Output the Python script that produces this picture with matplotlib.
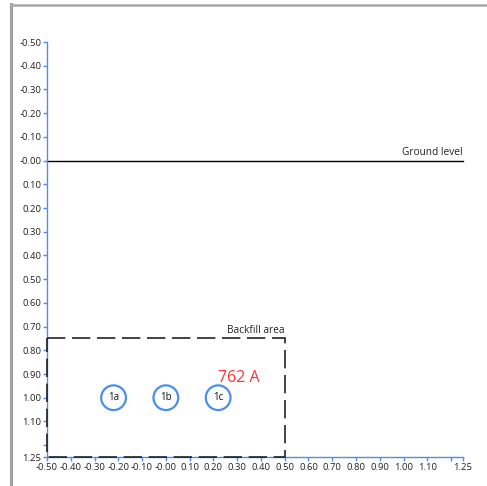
import numpy as np
import matplotlib
matplotlib.use("Agg")
from matplotlib import pyplot as plt
from matplotlib.patches import Circle, Rectangle
from matplotlib.lines import Line2D

# Cable layout data
cable_names = ["1a", "1b", "1c"]
cable_x = [-0.22, 0.0, 0.22]
cable_y = [1.0, 1.0, 1.0]
cable_radius = 0.052
current_label = "762 A"
current_pos = (0.22, 0.915)

ground_level = 0.0
backfill_x = [-0.5, 0.5]
backfill_y = [0.75, 1.25]

x_ticks = [-0.5, -0.4, -0.3, -0.2, -0.1, 0.0, 0.1, 0.2, 0.3, 0.4, 0.5, 0.6,
           0.7, 0.8, 0.9, 1.0, 1.1, 1.2, 1.25]
y_ticks = [-0.5, -0.4, -0.3, -0.2, -0.1, 0.0, 0.1, 0.2, 0.3, 0.4, 0.5, 0.6,
           0.7, 0.8, 0.9, 1.0, 1.1, 1.2, 1.25]


def tick_text(v):
  if abs(v - 1.2) < 1e-9:
    return ""
  if abs(v) < 1e-9:
    return "-0.00"
  return "%.2f" % v

plt.rcParams["font.family"] = ["Open Sans", "DejaVu Sans"]
blue = "#4a8ef0"

figure = plt.figure(figsize=(4.87, 4.86), dpi=100)
axes = figure.add_axes([47/487, 1 - 457/486, (463 - 47)/487, (457 - 42)/486])

axes.set_xlim(-0.5, 1.25)
axes.set_ylim(1.25, -0.5)

for side in ["top", "right"]:
  axes.spines[side].set_visible(False)
for side in ["left", "bottom"]:
  axes.spines[side].set_color(blue)
  axes.spines[side].set_linewidth(1.0)

axes.set_xticks(x_ticks)
axes.set_xticklabels([tick_text(v) for v in x_ticks])
axes.set_yticks(y_ticks)
axes.set_yticklabels([tick_text(v) for v in y_ticks])
axes.tick_params(axis="both", colors=blue, labelcolor="#222222", length=3,
                 width=1, labelsize=6.8, pad=1)

# Ground level
axes.plot([-0.5, 1.25], [ground_level, ground_level], color="black", lw=1.0,
          clip_on=False)
axes.text(1.25, ground_level - 0.012, "Ground level", ha="right", va="bottom",
          fontsize=7.3, color="#222222")

# Backfill area
rect = Rectangle((backfill_x[0], backfill_y[0]), backfill_x[1] - backfill_x[0],
                 backfill_y[1] - backfill_y[0], fill=False, edgecolor="#222222",
                 lw=1.2, linestyle=(0, (11, 4)), clip_on=False, zorder=5)
axes.add_patch(rect)
axes.text(backfill_x[1], backfill_y[0] - 0.012, "Backfill area", ha="right",
          va="bottom", fontsize=7.3, color="#222222")

# Cables
for name, cx, cy in zip(cable_names, cable_x, cable_y):
  axes.add_patch(Circle((cx, cy), cable_radius, fill=False, edgecolor=blue,
                        lw=1.6, zorder=4))
  axes.text(cx, cy, name, ha="center", va="center", fontsize=7,
            color="#111111", zorder=6)

axes.text(current_pos[0], current_pos[1], current_label, ha="left",
          va="center", fontsize=11.5, color="#ff3333")

# Window frame lines
figure.add_artist(Line2D([11/487, 11/487], [0, 1 - 4/486], color="#a0a0a0",
                         lw=2.2, transform=figure.transFigure))
figure.add_artist(Line2D([11/487, 1], [1 - 5/486, 1 - 5/486], color="#a8a8a8",
                         lw=1.8, transform=figure.transFigure))

figure.savefig("out.png", dpi=100)
